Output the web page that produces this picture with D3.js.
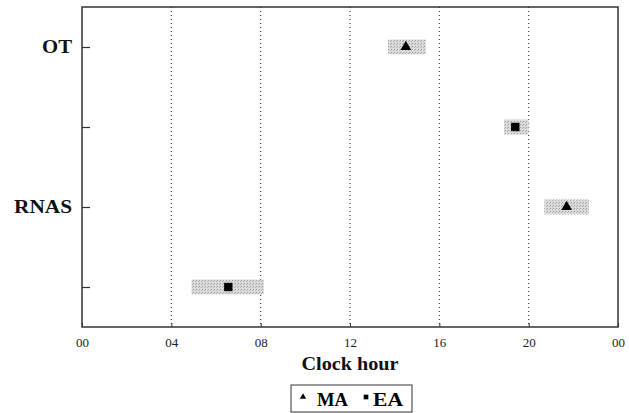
<!DOCTYPE html>
<html>
<head>
<meta charset="utf-8">
<script src="https://cdn.jsdelivr.net/npm/d3@7"></script>
<style>
  body { margin: 0; background: #fff; }
</style>
</head>
<body>
<svg id="chart"></svg>
<script>
// rows of the chart, top to bottom
const rows = ['OT-MA', 'OT-EA', 'RNAS-MA', 'RNAS-EA'];
const rowLabels = ['OT', '', 'RNAS', ''];
const xTicks = [0, 4, 8, 12, 16, 20, 24];
const xTickLabels = ['00', '04', '08', '12', '16', '20', '00'];

// peak hour and its range (clock hours)
const peakHour = [14.5, 19.4, 21.7, 6.55];
const rangeLow = [13.7, 18.9, 20.7, 4.9];
const rangeHigh = [15.4, 20.0, 22.7, 8.15];
const phase = ['MA', 'EA', 'MA', 'EA'];

const serif = '"Liberation Serif"';
const width = 629, height = 413;
const margin = { top: 7, right: 11, bottom: 86, left: 82 };
const innerW = width - margin.left - margin.right;
const innerH = height - margin.top - margin.bottom;

const svg = d3.select('#chart')
    .attr('width', width)
    .attr('height', height);

const chart = svg.append('g')
    .attr('transform', `translate(${margin.left},${margin.top})`);

const xScale = d3.scaleLinear().domain([0, 24]).range([0, innerW]);
const yScale = d3.scalePoint().domain(rows).range([0, innerH]).padding(0.5);

// dotted vertical grid
chart.selectAll('.grid')
    .data(xTicks.slice(1, -1))
    .join('line')
    .attr('class', 'grid')
    .attr('x1', d => xScale(d))
    .attr('x2', d => xScale(d))
    .attr('y1', 0)
    .attr('y2', innerH)
    .attr('stroke', '#222')
    .attr('stroke-width', 1)
    .attr('stroke-dasharray', '1,3');

// frame
chart.append('rect')
    .attr('width', innerW)
    .attr('height', innerH)
    .attr('fill', 'none')
    .attr('stroke', '#333')
    .attr('stroke-width', 1.5);

// x axis
const xAxis = d3.axisBottom(xScale)
    .tickValues(xTicks)
    .tickSize(-4)
    .tickPadding(11)
    .tickFormat((d, i) => xTickLabels[i]);

chart.append('g')
    .attr('transform', `translate(0,${innerH})`)
    .call(xAxis)
    .attr('font-family', null)
    .call(g => g.select('.domain').remove())
    .call(g => g.selectAll('line').attr('stroke', '#333'))
    .call(g => g.selectAll('text')
        .attr('font-size', 13)
        .attr('fill', '#222')
        .style('font-family', serif));

// y axis
const yLabelWidth = { 'OT': 30, 'RNAS': 58 };
const yAxis = d3.axisLeft(yScale)
    .tickSize(-8)
    .tickPadding(10)
    .tickFormat((d, i) => rowLabels[i]);

chart.append('g')
    .call(yAxis)
    .attr('font-family', null)
    .call(g => g.select('.domain').remove())
    .call(g => g.selectAll('line').attr('stroke', '#333').attr('stroke-width', 1.2))
    .call(g => g.selectAll('text')
        .attr('font-size', 18)
        .attr('font-weight', 'bold')
        .attr('fill', '#111')
        .style('font-family', serif)
        .each(function () {
            const t = d3.select(this).text();
            if (yLabelWidth[t]) {
                d3.select(this)
                    .attr('textLength', yLabelWidth[t])
                    .attr('lengthAdjust', 'spacingAndGlyphs');
            }
        }));

// stipple pattern for the range boxes
const defs = svg.append('defs');
const pat = defs.append('pattern')
    .attr('id', 'stipple')
    .attr('width', 3)
    .attr('height', 3)
    .attr('patternUnits', 'userSpaceOnUse');
pat.append('rect').attr('width', 3).attr('height', 3).attr('fill', '#dcdcdc');
pat.append('rect').attr('width', 1).attr('height', 1).attr('fill', '#9a9a9a');
pat.append('rect').attr('x', 2).attr('y', 1).attr('width', 1).attr('height', 1).attr('fill', '#b0b0b0');

const boxH = 15;
chart.selectAll('.range')
    .data(rows)
    .join('rect')
    .attr('class', 'range')
    .attr('x', (d, i) => xScale(rangeLow[i]))
    .attr('width', (d, i) => xScale(rangeHigh[i]) - xScale(rangeLow[i]))
    .attr('y', d => yScale(d) - boxH / 2)
    .attr('height', boxH)
    .attr('fill', 'url(#stipple)');

const triangle = d3.symbol().type(d3.symbolTriangle).size(50);
const square = d3.symbol().type(d3.symbolSquare).size(70);

chart.selectAll('.peak')
    .data(rows)
    .join('path')
    .attr('class', 'peak')
    .attr('d', (d, i) => phase[i] === 'MA' ? triangle() : square())
    .attr('transform', (d, i) => `translate(${xScale(peakHour[i])},${yScale(d)})`)
    .attr('fill', '#000');

// axis title
svg.append('text')
    .attr('x', margin.left + innerW / 2)
    .attr('y', 370)
    .attr('text-anchor', 'middle')
    .attr('font-size', 19)
    .attr('font-weight', 'bold')
    .attr('fill', '#111')
    .attr('textLength', 97)
    .attr('lengthAdjust', 'spacingAndGlyphs')
    .style('font-family', serif)
    .text('Clock hour');

// legend
const legend = svg.append('g').attr('transform', 'translate(291,385)');
legend.append('rect')
    .attr('width', 121)
    .attr('height', 27)
    .attr('fill', 'none')
    .attr('stroke', '#333')
    .attr('stroke-width', 1);

legend.append('path')
    .attr('d', d3.symbol().type(d3.symbolTriangle).size(18)())
    .attr('transform', 'translate(12,12)');
legend.append('text')
    .attr('x', 26).attr('y', 21)
    .attr('font-size', 19).attr('font-weight', 'bold')
    .attr('textLength', 31).attr('lengthAdjust', 'spacingAndGlyphs')
    .style('font-family', serif)
    .text('MA');
legend.append('path')
    .attr('d', d3.symbol().type(d3.symbolSquare).size(22)())
    .attr('transform', 'translate(75,12)');
legend.append('text')
    .attr('x', 82).attr('y', 21)
    .attr('font-size', 19).attr('font-weight', 'bold')
    .attr('textLength', 30).attr('lengthAdjust', 'spacingAndGlyphs')
    .style('font-family', serif)
    .text('EA');
</script>
</body>
</html>
